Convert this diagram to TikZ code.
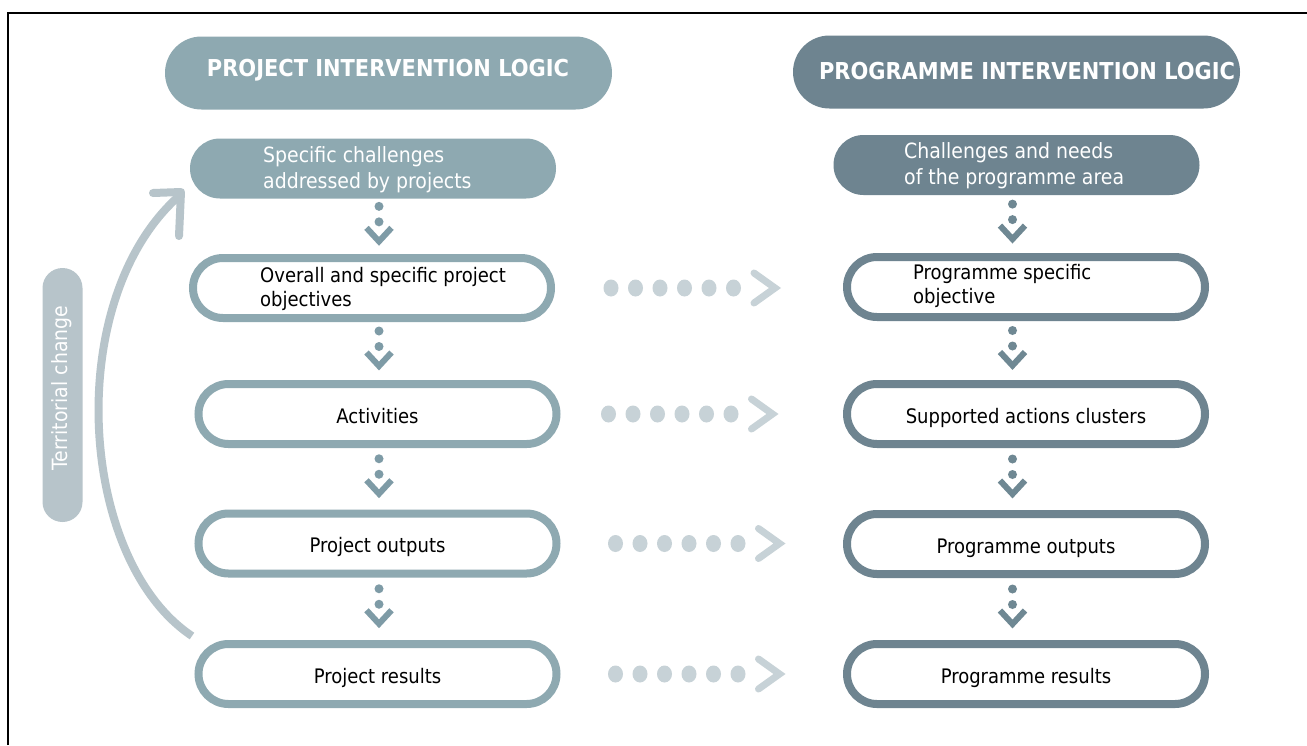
\documentclass[tikz,border=0pt]{standalone}
\usepackage{fontspec}
\setmainfont{DejaVu Sans Condensed}
\usetikzlibrary{shapes.misc,calc}
\definecolor{projC}{HTML}{8EA9B1}
\definecolor{progC}{HTML}{6E8490}
\definecolor{lightC}{HTML}{B7C4CA}
\definecolor{hdotC}{HTML}{C7D2D7}
\definecolor{pdotC}{HTML}{7E9BA6}
\definecolor{gdotC}{HTML}{6F8893}
\newcommand{\vconn}[4]{%
  \path let \p1=($(#1.south)!0.5!(#2.north)$) in coordinate (m) at (#4pt,\y1);
  \fill[#3] ($(m)+(0,-20)$) circle (4.5pt);
  \fill[#3] ($(m)+(0,-4.5)$) circle (4.5pt);
  \draw[#3, line width=6pt] ($(m)+(-12.5,1.5)$) -- ($(m)+(0,15)$) -- ($(m)+(12.5,1.5)$);
}
\newcommand{\hconn}[3]{%
  \foreach \i in {0,...,5} \fill[hdotC] ($(#1.east)+(#3+24.5*\i,0)$) ellipse [x radius=7.5pt, y radius=8.5pt];
  \draw[hdotC, line width=7pt, line cap=round] ($(#1.east)+(#3+143,-15)$) -- ($(#1.east)+(#3+164,0)$) -- ($(#1.east)+(#3+143,15)$);
}
\begin{document}
\begin{tikzpicture}[x=1pt,y=-1pt,
  hdr/.style={rounded rectangle, fill=#1, minimum width=447pt, minimum height=73pt, inner sep=0pt},
  hdrtxt/.style={text=white, font=\bfseries\fontsize{23.3}{28}\selectfont, inner sep=0pt},
  cbox/.style={rounded rectangle, fill=#1, minimum width=366pt, minimum height=60pt, inner sep=0pt},
  wtxt/.style={text=white, font=\fontsize{21}{26}\selectfont, align=left, inner sep=0pt, anchor=west},
  btxt/.style={text=black, font=\fontsize{20}{24}\selectfont, align=left, inner sep=0pt, anchor=west},
  obox/.style={rounded rectangle, draw=#1, line width=8pt, fill=white, minimum width=358pt, minimum height=60pt, inner sep=0pt, text=black, font=\fontsize{20}{24}\selectfont, text height=18pt, text depth=0pt},
  tcbox/.style={rounded rectangle, fill=lightC, minimum width=254pt, minimum height=40pt, inner sep=0pt, rotate=90},
  tctxt/.style={text=white, font=\fontsize{21}{24}\selectfont, inner sep=0pt, rotate=90}
]
\useasboundingbox (0,0) rectangle (1307,745);
\fill[white] (0,0) rectangle (1307,745);
\draw[line width=2pt] (8,745) -- (8,12.5) -- (1307,12.5);

% headers
\node[hdr=projC] (ph) at (388.5,73) {};
\node[hdrtxt] (pht) at (388,70) {PROJECT INTERVENTION LOGIC};
\node[hdr=progC] (gh) at (1016.5,72) {};
\node[hdrtxt] (ght) at (1027,71) {PROGRAMME INTERVENTION LOGIC};

% left column
\node[cbox=projC] (pc) at (373,168.5) {};
\node[wtxt] (pct) at (263,170) {Specific challenges\\addressed by projects};
\node[obox=projC] (p1) at (372,288) {};
\node[btxt] (p1t) at (260,289) {Overall and specific project\\objectives};
\node[obox=projC] (p2) at (377.5,414) {Activities};
\node[obox=projC] (p3) at (377.5,543.5) {Project outputs};
\node[obox=projC] (p4) at (377.5,674) {Project results};

% right column
\node[cbox=progC] (gc) at (1016.5,165) {};
\node[wtxt] (gct) at (904,166) {Challenges and needs\\of the programme area};
\node[obox=progC] (g1) at (1026,287) {};
\node[btxt] (g1t) at (913,286) {Programme specific\\objective};
\node[obox=progC] (g2) at (1026,414) {Supported actions clusters};
\node[obox=progC] (g3) at (1026,544) {Programme outputs};
\node[obox=progC] (g4) at (1026,674) {Programme results};

% vertical connectors
\vconn{pc}{p1}{pdotC}{379}
\vconn{p1}{p2}{pdotC}{379}
\vconn{p2}{p3}{pdotC}{379}
\vconn{p3}{p4}{pdotC}{379}
\vconn{gc}{g1}{gdotC}{1012.5}
\vconn{g1}{g2}{gdotC}{1012.5}
\vconn{g2}{g3}{gdotC}{1012.5}
\vconn{g3}{g4}{gdotC}{1012.5}

% horizontal connectors
\hconn{p1}{g1}{56}
\hconn{p2}{g2}{48}
\hconn{p3}{g3}{55}
\hconn{p4}{g4}{55}

% territorial change
\node[tcbox] (tc) at (62.5,395) {};
\node[tctxt] (tct) at (62,388) {Territorial change};
\coordinate (tcA) at (192,636);
\coordinate (tcB) at (179,196);
\draw[lightC, line width=8pt] (tcA) .. controls (78,560) and (62,300) .. (tcB);
\draw[lightC, line width=8pt, line cap=round, line join=round] ($(tcB)+(-26,-3)$) -- ($(tcB)+(2,-4)$) -- ($(tcB)+(0,40)$);
\end{tikzpicture}
\end{document}
